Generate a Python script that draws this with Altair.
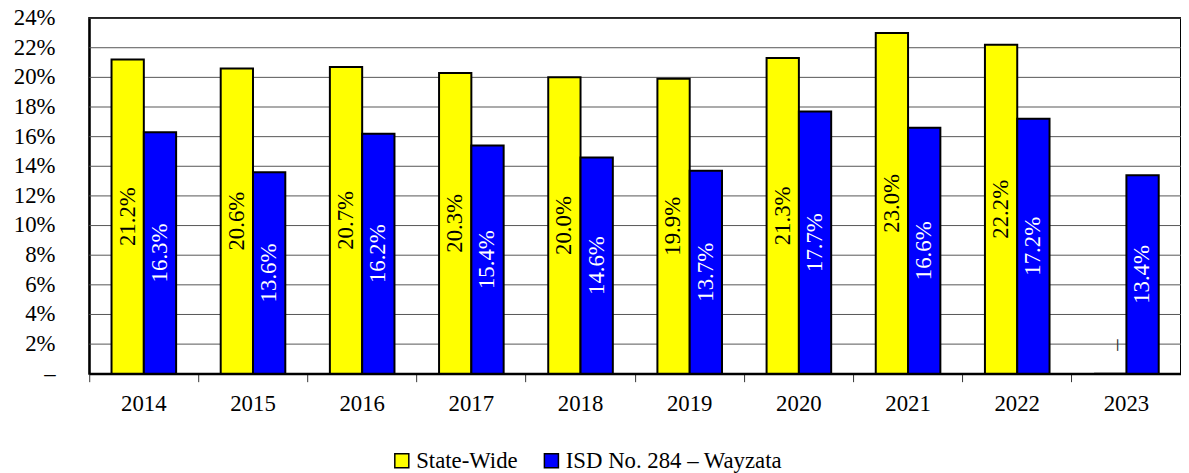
import altair as alt
import pandas as pd

years = ["2014", "2015", "2016", "2017", "2018", "2019", "2020", "2021", "2022", "2023"]
state_wide = [21.2, 20.6, 20.7, 20.3, 20.0, 19.9, 21.3, 23.0, 22.2, 0.0]
wayzata = [16.3, 13.6, 16.2, 15.4, 14.6, 13.7, 17.7, 16.6, 17.2, 13.4]
series = ["State-Wide", "ISD No. 284 – Wayzata"]
colors = ["#FFFF00", "#0000FF"]
y_ticks = [0, 2, 4, 6, 8, 10, 12, 14, 16, 18, 20, 22, 24]

rows = []
for i, y in enumerate(years):
    rows.append({"year": y, "series": series[0], "v": state_wide[i]})
    rows.append({"year": y, "series": series[1], "v": wayzata[i]})
df = pd.DataFrame(rows)
df_ticks = pd.DataFrame({"t": y_ticks})
df_years = pd.DataFrame({"year": years})

FONT = "Liberation Serif"
W, H = 1102, 359

x_axis = alt.Axis(labels=False, bandPosition=0, ticks=True, tickSize=8,
                  tickColor="#333", domainColor="black", domainWidth=2, grid=False)
y_axis = alt.Axis(labels=False, ticks=False, grid=False,
                  domainColor="black", domainWidth=2)
x_scale = alt.Scale(domain=years, paddingInner=0, paddingOuter=0)
y_scale = alt.Scale(domain=[0, 24], nice=False)
xo = alt.XOffset("series:N", sort=series,
                 scale=alt.Scale(paddingOuter=0.69, paddingInner=0))

grid = alt.Chart(df_ticks).transform_filter("datum.t > 0").mark_rule(
    color="#555", strokeWidth=1
).encode(
    y=alt.Y("t:Q", title=None, scale=y_scale, axis=y_axis),
    x=alt.value(0), x2=alt.value(W),
)

ylabels = alt.Chart(df_ticks).transform_calculate(
    lab="datum.t == 0 ? '–' : datum.t + '%'"
).mark_text(font=FONT, fontSize=23, align="right", baseline="middle",
            color="black", dx=-34).encode(
    y=alt.Y("t:Q", title=None, scale=y_scale, axis=y_axis),
    x=alt.value(0),
    text="lab:N",
)

xlabels = alt.Chart(df_years).mark_text(
    font=FONT, fontSize=23, align="center", baseline="middle", color="black"
).encode(
    x=alt.X("year:N", sort=years, title=None, scale=x_scale, axis=x_axis),
    y=alt.value(H + 31),
    text="year:N",
)

bars = alt.Chart(df).mark_bar(stroke="black", strokeWidth=2).encode(
    x=alt.X("year:N", sort=years, title=None, scale=x_scale, axis=x_axis),
    xOffset=xo,
    y=alt.Y("v:Q", title=None, scale=y_scale, axis=y_axis),
    color=alt.Color("series:N", sort=series,
                    scale=alt.Scale(domain=series, range=colors),
                    legend=alt.Legend(title=None, orient="none", direction="horizontal",
                                      legendX=304, legendY=435, symbolType="square",
                                      symbolSize=200, symbolStrokeColor="black",
                                      symbolStrokeWidth=1.5, labelFont=FONT,
                                      labelFontSize=23, labelColor="black",
                                      labelLimit=400, columnPadding=22, labelOffset=3,
                                      symbolOpacity=1)),
)

labels = alt.Chart(df).transform_filter("datum.v > 0").transform_calculate(
    mid="datum.v / 2", lab="format(datum.v, '.1f') + '%'"
).mark_text(angle=270, font=FONT, fontSize=23, baseline="middle",
            align="center").encode(
    x=alt.X("year:N", sort=years, title=None, scale=x_scale, axis=x_axis),
    xOffset=xo,
    y=alt.Y("mid:Q", title=None, scale=y_scale, axis=y_axis),
    text="lab:N",
    color=alt.Color("series:N", sort=series,
                    scale=alt.Scale(domain=series, range=["black", "white"]),
                    legend=None),
)

zero_labels = alt.Chart(df).transform_filter("datum.v == 0").transform_calculate(
    lab="'–'"
).mark_text(angle=270, font=FONT, fontSize=23, baseline="middle", align="center",
            dx=29, dy=6, color="#333").encode(
    x=alt.X("year:N", sort=years, title=None, scale=x_scale, axis=x_axis),
    xOffset=xo,
    y=alt.Y("v:Q", title=None, scale=y_scale, axis=y_axis),
    text="lab:N",
)

chart = alt.layer(grid, bars, labels, zero_labels, ylabels, xlabels).resolve_scale(
    color="independent"
).properties(
    width=W, height=H,
    autosize=alt.AutoSizeParams(type="none"),
    padding={"left": 82, "top": 8, "right": 0, "bottom": 98},
).configure(background="white", font=FONT).configure_view(
    stroke="black", strokeWidth=2
)

chart.save("out.html", embed_options={"renderer": "svg", "actions": False})
